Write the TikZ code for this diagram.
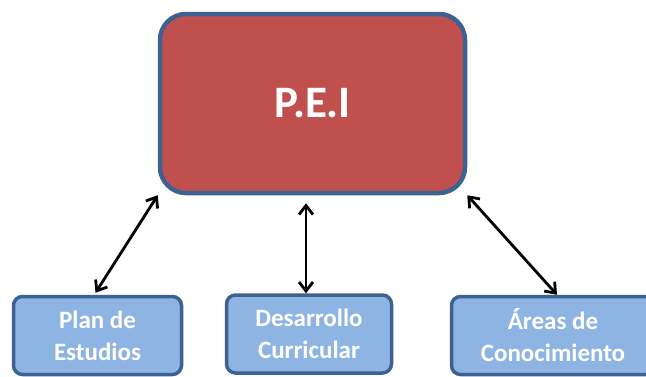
\documentclass[tikz,border=0pt]{standalone}
\usepackage{fontspec}
\setmainfont{Carlito}
\usetikzlibrary{arrows.meta}
\definecolor{peired}{HTML}{C0504D}
\definecolor{boxblue}{HTML}{8EB4E3}
\definecolor{edgeblue}{HTML}{3D6190}

\begin{document}
\begin{tikzpicture}[x=1pt, y=-1pt,
    mainbox/.style={draw=edgeblue, line width=4.5pt, fill=peired, rounded corners=26pt,
      minimum width=305pt, minimum height=179pt, text=white,
      font=\fontsize{45}{50}\selectfont\bfseries},
    subbox/.style={draw=edgeblue, line width=3.5pt, fill=boxblue, rounded corners=9pt,
      minimum height=78pt, text=white, align=center,
      font=\fontsize{25}{32}\selectfont\bfseries},
    link/.style={line width=2.8pt, {Straight Barb[length=9pt,width=14pt]}-{Straight Barb[length=9pt,width=14pt]}}]

                  % Frame
                  \useasboundingbox (0,0) rectangle (646,376);
                  \clip (0,0) rectangle (646,376);

                  % Draw boxes
                  \node[mainbox] (pei) at (312.5,103.5) {P.E.I};
                  \node[subbox, minimum width=168pt] (plan) at (97.5,335.5) {Plan de\\Estudios};
                  \node[subbox, minimum width=165pt] (desarrollo) at (309,334) {Desarrollo\\Curricular};
                  \node[subbox, minimum width=203pt] (areas) at (553,335.5) {Áreas de\\Conocimiento};

                  % Draw links
                  \draw[link] (pei.south west) -- ([shift={(-2,-2)}]plan.north);
                  \draw[link] ([shift={(-3,8)}]pei.south -| desarrollo.north) -- ([shift={(-3,0)}]desarrollo.north);
                  \draw[link] (pei.south east) -- ([shift={(4,0)}]areas.north);

              \end{tikzpicture}
\end{document}
